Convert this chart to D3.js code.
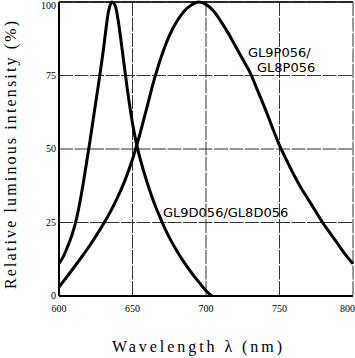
<!DOCTYPE html>
<html><head><meta charset="utf-8">
<script src="https://cdn.jsdelivr.net/npm/d3@7"></script>
<style>body{margin:0;background:#fff}svg{display:block}</style>
</head><body>
<svg id="c" width="355" height="358"></svg>
<script>
const xTicks = [600, 650, 700, 750, 800];
const yTicks = [0, 25, 50, 75, 100];
// GL9D056/GL8D056 (narrow peak)
const redWave = [600,603,606,609,612,615,618,621,624,627,630,632,634,636,638,640,642,645,648,651,654,657,660,663,666,669,672,676,680,685,690,695,700,704];
const redVal  = [11,13.5,17,21,26.5,34,43,52.5,62.5,72.5,83,91,97.5,100,99,94.5,87.5,76,65,56,49,43.5,38.5,34,30,26.5,23,19,15.5,11.5,8,4.8,1.8,0];
// GL9P056/GL8P056 (broad peak)
const ledWave = [600,605,610,615,620,625,630,635,640,645,650,655,660,665,670,675,680,685,690,695,700,705,710,715,720,725,730,735,740,745,750,755,760,765,770,775,780,785,790,795,800];
const ledVal  = [3,6.3,9.6,13,16.5,20.3,24.3,28.7,33.7,39.5,46.5,55,64.5,74,82,88.5,93.3,96.8,99,100,99.2,97,93.5,89.5,85,80.5,76,70,64,57.5,51.2,46,41,36.5,32.5,28.5,24.5,21,17.5,14,11];

const svg = d3.select("#c");
const x = d3.scaleLinear().domain([600, 800]).range([59, 353]);
const y = d3.scaleLinear().domain([0, 100]).range([296, 2]);

// grid
svg.append("g").selectAll("line.v").data(xTicks).join("line")
  .attr("x1", d => x(d)).attr("x2", d => x(d)).attr("y1", y(100)).attr("y2", y(0))
  .attr("stroke", "#333").attr("stroke-width", 1).attr("stroke-dasharray", "14,1.5");
svg.append("g").selectAll("line.h").data(yTicks).join("line")
  .attr("x1", x(600)).attr("x2", x(800)).attr("y1", d => y(d)).attr("y2", d => y(d))
  .attr("stroke", "#333").attr("stroke-width", 1).attr("stroke-dasharray", "14,1.5");

// axes lines
svg.append("line").attr("x1", x(600)).attr("x2", x(600)).attr("y1", y(100)).attr("y2", y(0))
  .attr("stroke", "#000").attr("stroke-width", 2);
svg.append("line").attr("x1", x(600)).attr("x2", x(800)).attr("y1", y(0)).attr("y2", y(0))
  .attr("stroke", "#000").attr("stroke-width", 2);
svg.append("line").attr("x1", x(600)).attr("x2", x(800)).attr("y1", y(100)).attr("y2", y(100))
  .attr("stroke", "#000").attr("stroke-width", 1.5);

// tick labels
const serif = "'Liberation Serif','DejaVu Serif',serif";
svg.append("g").selectAll("text").data(yTicks).join("text")
  .attr("x", 56).attr("y", d => Math.max(y(d) + 3, 9)).attr("text-anchor", "end")
  .attr("font-family", serif).attr("font-size", 10).text(d => d);
svg.append("g").selectAll("text").data(xTicks).join("text")
  .attr("x", d => d === 800 ? 355 : x(d)).attr("y", 312)
  .attr("text-anchor", d => d === 800 ? "end" : "middle")
  .attr("font-family", serif).attr("font-size", 10).text(d => d);

// curves
const line = d3.line().x(d => x(d[0])).y(d => y(d[1])).curve(d3.curveCatmullRom.alpha(0.5));
svg.append("path").datum(redWave.map((w, i) => [w, redVal[i]]))
  .attr("d", line).attr("fill", "none").attr("stroke", "#000").attr("stroke-width", 3);
svg.append("path").datum(ledWave.map((w, i) => [w, ledVal[i]]))
  .attr("d", line).attr("fill", "none").attr("stroke", "#000").attr("stroke-width", 3);

// curve labels
const sans = "'DejaVu Sans',sans-serif";
svg.append("text").attr("x", 248).attr("y", 57).attr("font-family", sans).attr("font-size", 13).text("GL9P056/");
svg.append("text").attr("x", 257).attr("y", 72).attr("font-family", sans).attr("font-size", 13).text("GL8P056");
svg.append("text").attr("x", 163).attr("y", 217).attr("font-family", sans).attr("font-size", 13).text("GL9D056/GL8D056");

// axis titles
svg.append("text").attr("transform", "translate(16,155) rotate(-90)").attr("text-anchor", "middle")
  .attr("font-family", serif).attr("font-size", 16)
  .attr("textLength", 268).attr("lengthAdjust", "spacing")
  .text("Relative luminous intensity (%)");
svg.append("text").attr("x", 197).attr("y", 352).attr("text-anchor", "middle")
  .attr("font-family", serif).attr("font-size", 16)
  .attr("textLength", 170).attr("lengthAdjust", "spacing")
  .text("Wavelength λ (nm)");
</script>
</body></html>
